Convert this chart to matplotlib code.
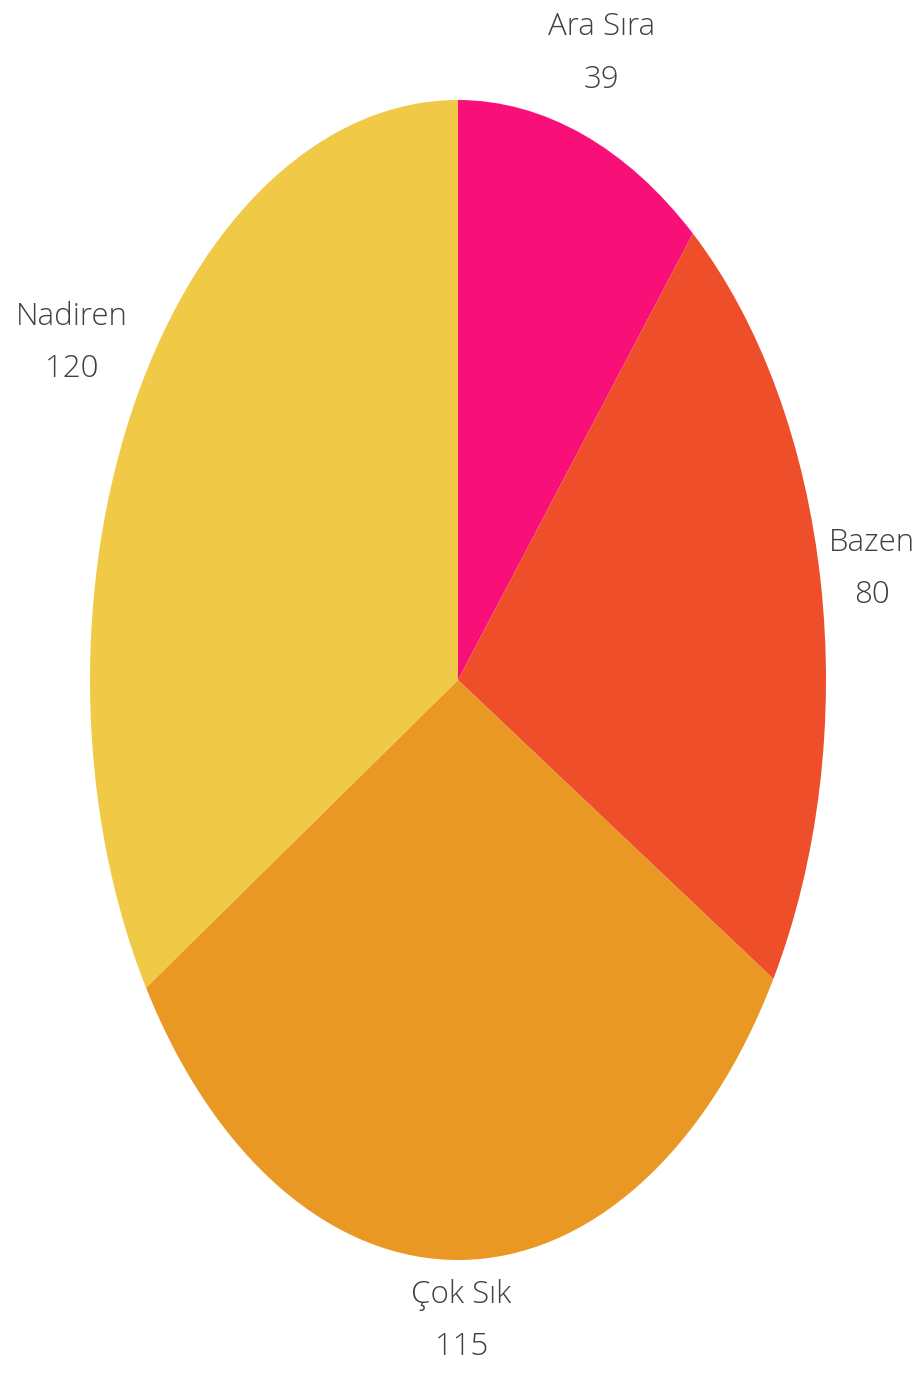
import numpy as np
import matplotlib.pyplot as plt

plt.rcParams['font.family'] = ['Open Sans', 'DejaVu Sans']

labels = ['Ara Sıra', 'Bazen', 'Çok Sık', 'Nadiren']
values = [39, 80, 115, 120]
colors = ['#F81078', '#EE4E2A', '#E99824', '#F0C946']
label_dist = [1.148, 1.14, 1.105, 1.2]

fig = plt.figure(figsize=(9.24, 13.94), dpi=100)
# pie is stretched vertically, so use an axes with auto aspect
ax = fig.add_axes([90 / 924, 134 / 1394, 736 / 924, 1160 / 1394])

wedges, texts = ax.pie(values, colors=colors, startangle=90, counterclock=False,
                       labels=[f'{l}\n{v}' for l, v in zip(labels, values)],
                       labeldistance=1.0,
                       wedgeprops=dict(linewidth=0),
                       textprops=dict(fontsize=22.5, color='#404040',
                                      fontweight='light', linespacing=1.85))
for t, d in zip(texts, label_dist):
    x, y = t.get_position()
    t.set_position((x * d, y * d))
    t.set_ha('center')
    t.set_va('center')

ax.set_aspect('auto')
ax.set_xlim(-1, 1)
ax.set_ylim(-1, 1)
ax.axis('off')

plt.savefig('out.png', dpi=100)
plt.close()
